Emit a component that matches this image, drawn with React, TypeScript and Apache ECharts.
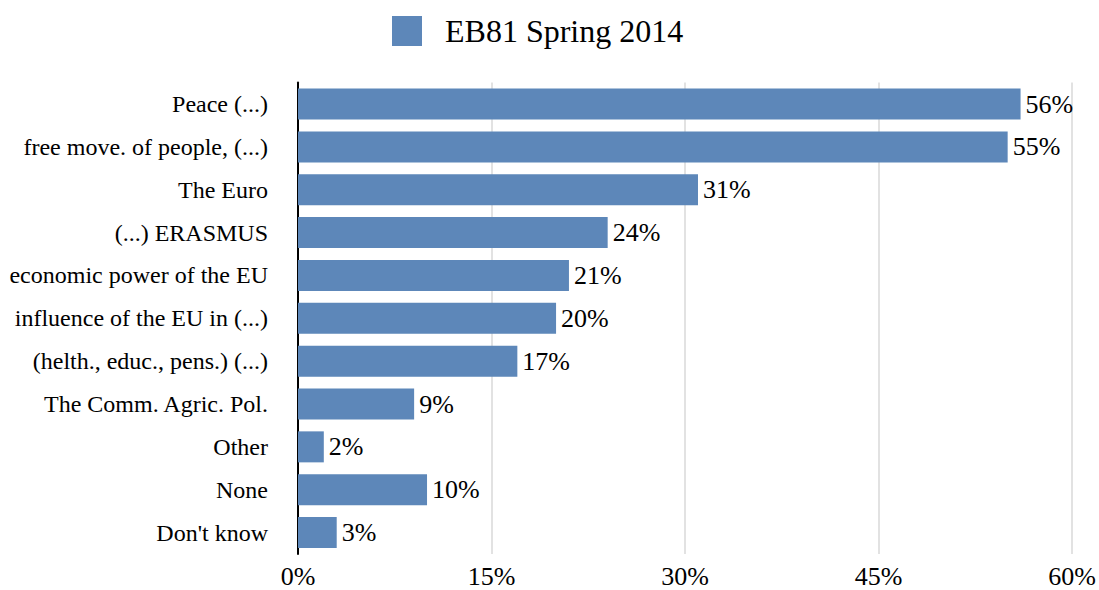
import React, { useEffect, useRef } from "react";
import * as echarts from "echarts";

const categories = [
  "Peace (...)",
  "free move. of people, (...)",
  "The Euro",
  "(...) ERASMUS",
  "economic power of the EU",
  "influence of the EU in (...)",
  "(helth., educ., pens.) (...)",
  "The Comm. Agric. Pol.",
  "Other",
  "None",
  "Don't know",
];
const values = [56, 55, 31, 24, 21, 20, 17, 9, 2, 10, 3];
const seriesName = "EB81 Spring 2014";
const axisMin = 0;
const axisMax = 60;
const axisStep = 15;

const FONT = "Times New Roman, Liberation Serif, DejaVu Serif, serif";

export default function App() {
  const ref = useRef<HTMLDivElement>(null);
  useEffect(() => {
    if (!ref.current) return;
    const chart = echarts.init(ref.current, undefined, { renderer: "svg" });
    chart.setOption({
      animation: false,
      textStyle: { fontFamily: FONT, color: "#000" },
      legend: {
        left: 387,
        top: 10,
        itemWidth: 30,
        itemHeight: 30,
        icon: "rect",
        data: [seriesName],
        textStyle: {
          fontFamily: FONT,
          fontSize: 32,
          color: "#000",
          padding: [0, 0, 0, 18],
        },
      },
      grid: { left: 298, right: 25, top: 82.6, bottom: 36, containLabel: false },
      xAxis: {
        type: "value",
        min: axisMin,
        max: axisMax,
        interval: axisStep,
        axisLine: { show: false },
        axisTick: { show: false },
        splitLine: { show: true, lineStyle: { color: "#d9d9d9", width: 1.5 } },
        axisLabel: {
          formatter: (v: number) => `${v}%`,
          fontFamily: FONT,
          fontSize: 26,
          color: "#000",
          margin: 9,
        },
      },
      yAxis: {
        type: "category",
        data: categories,
        inverse: true,
        axisLine: { show: true, lineStyle: { color: "#000", width: 2 } },
        axisTick: { show: false },
        axisLabel: {
          fontFamily: FONT,
          fontSize: 24,
          color: "#000",
          margin: 30,
        },
      },
      series: [
        {
          name: seriesName,
          type: "bar",
          data: values,
          barWidth: 31,
          itemStyle: { color: "#5d87b9" },
          label: {
            show: true,
            position: "right",
            distance: 5,
            formatter: (p: any) => `${p.value}%`,
            fontFamily: FONT,
            fontSize: 26,
            color: "#000",
          },
        },
      ],
    });
    return () => chart.dispose();
  }, []);
  return <div ref={ref} style={{ width: 1099, height: 590, position: "absolute", left: 0, top: 0 }} />;
}
